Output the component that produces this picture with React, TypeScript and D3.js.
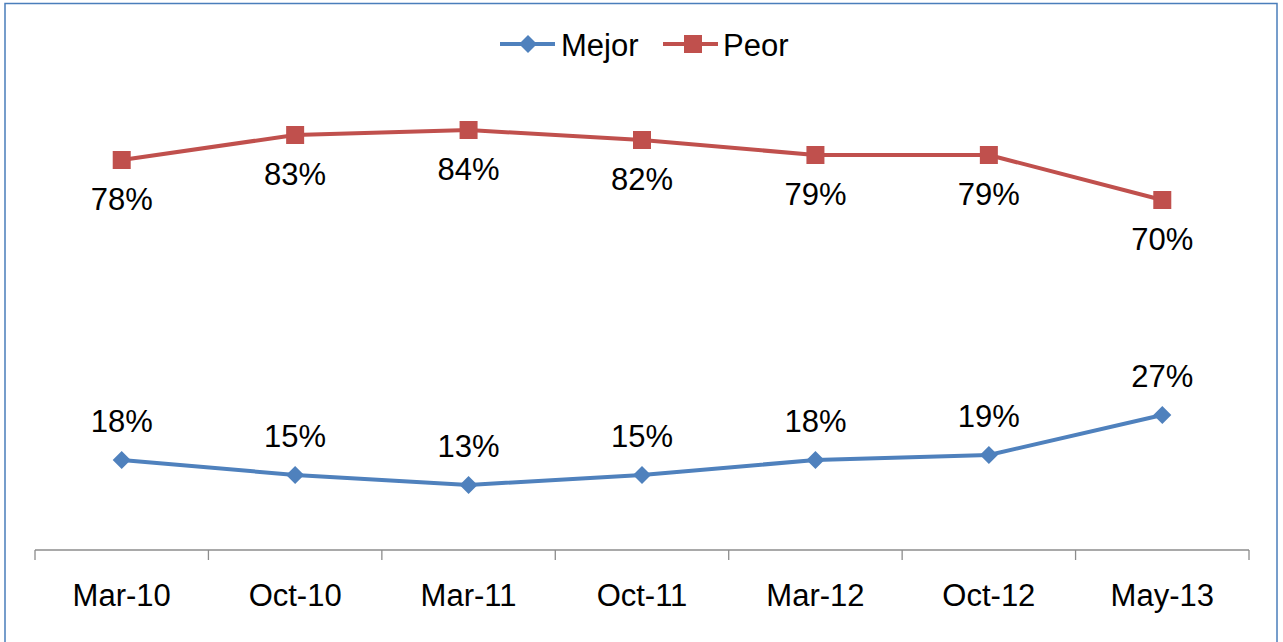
import React from "react";
import * as d3 from "d3";

const categories = ["Mar-10", "Oct-10", "Mar-11", "Oct-11", "Mar-12", "Oct-12", "May-13"];
const mejor = [18, 15, 13, 15, 18, 19, 27];
const peor = [78, 83, 84, 82, 79, 79, 70];

const W = 1283;
const H = 642;
const BLUE = "#4F81BD";
const RED = "#C0504D";
const FONT = "'Liberation Sans', Arial, sans-serif";
const FS = 31;

export default function App() {
  const x = d3.scaleBand<string>().domain(categories).range([35, 1249]).padding(0);
  const y = d3.scaleLinear().domain([0, 100]).range([550, 50]);
  const cx = (c: string) => (x(c) as number) + x.bandwidth() / 2;
  const line = d3
    .line<number>()
    .x((_, i) => cx(categories[i]))
    .y((d) => y(d));

  const diamond = (px: number, py: number, r: number) =>
    `M${px},${py - r}L${px + r},${py}L${px},${py + r}L${px - r},${py}Z`;

  const boundaries = categories.map((c) => x(c) as number).concat([1249]);

  return (
    <svg
      width={W}
      height={H}
      style={{ position: "absolute", left: 0, top: 0, background: "#fff" }}
      fontFamily={FONT}
    >
      <rect x={0} y={0} width={W} height={H} fill="#fff" />
      <rect x={5} y={3.5} width={1272} height={660} fill="none" stroke="#4A7EBB" strokeWidth={1.5} />

      {/* axis */}
      <line x1={35} x2={1249} y1={550} y2={550} stroke="#8C8C8C" strokeWidth={1.3} />
      {boundaries.map((b, i) => (
        <line key={i} x1={b} x2={b} y1={550} y2={560} stroke="#8C8C8C" strokeWidth={1.3} />
      ))}
      {categories.map((c) => (
        <text key={c} x={cx(c)} y={606} textAnchor="middle" fontSize={FS} fill="#000">
          {c}
        </text>
      ))}

      {/* Peor */}
      <path d={line(peor) as string} fill="none" stroke={RED} strokeWidth={4} strokeLinejoin="round" />
      {peor.map((v, i) => (
        <g key={"p" + i}>
          <rect x={cx(categories[i]) - 9} y={y(v) - 9} width={18} height={18} fill={RED} />
          <text x={cx(categories[i])} y={y(v) + 50} textAnchor="middle" fontSize={FS} fill="#000">
            {v}%
          </text>
        </g>
      ))}

      {/* Mejor */}
      <path d={line(mejor) as string} fill="none" stroke={BLUE} strokeWidth={4} strokeLinejoin="round" />
      {mejor.map((v, i) => (
        <g key={"m" + i}>
          <path d={diamond(cx(categories[i]), y(v), 9)} fill={BLUE} />
          <text x={cx(categories[i])} y={y(v) - 28} textAnchor="middle" fontSize={FS} fill="#000">
            {v}%
          </text>
        </g>
      ))}

      {/* legend */}
      <g>
        <line x1={500} x2={555} y1={44} y2={44} stroke={BLUE} strokeWidth={4} />
        <path d={diamond(528, 44, 9)} fill={BLUE} />
        <text x={561} y={56} fontSize={FS} fill="#000">Mejor</text>
        <line x1={663} x2={718} y1={44} y2={44} stroke={RED} strokeWidth={4} />
        <rect x={684} y={35} width={18} height={18} fill={RED} />
        <text x={723} y={56} fontSize={FS} fill="#000">Peor</text>
      </g>
    </svg>
  );
}
